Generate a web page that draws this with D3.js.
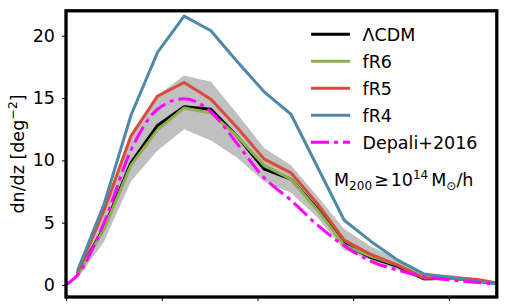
<!DOCTYPE html>
<html>
<head>
<meta charset="utf-8">
<script src="https://cdn.jsdelivr.net/npm/d3@7"></script>
<style>
    body { margin: 0; background: #fff; }
    svg { display: block; font-family: "DejaVu Sans", sans-serif; }
</style>
</head>
<body>
<div id="chart"></div>
<script>
// redshift bins (bin centres) and dn/dz curves
const zBins = [0.06, 0.199, 0.339, 0.478, 0.617, 0.757, 0.896, 1.035, 1.175, 1.314, 1.453, 1.593, 1.732, 1.871, 2.011, 2.150, 2.289];
const lcdm  = [0.9, 4.6, 9.8, 12.8, 14.3, 14.1, 11.9, 9.3, 8.5, 6.1, 3.3, 2.2, 1.5, 0.5, 0.55, 0.35, 0.05];
const lcdmHi = [1.2, 6.2, 12.0, 15.2, 16.8, 16.3, 13.7, 11.0, 9.6, 7.1, 4.5, 3.1, 2.1, 0.9, 0.8, 0.5, 0.1];
const lcdmLo = [0.5, 3.5, 8.3, 10.8, 12.5, 11.6, 10.2, 8.3, 7.4, 5.4, 2.8, 2.0, 1.2, 0.35, 0.4, 0.2, 0.0];
const fR6 = [0.85, 4.5, 9.6, 12.45, 14.2, 13.8, 11.9, 9.6, 8.5, 6.0, 3.2, 2.3, 1.6, 0.6, 0.55, 0.35, 0.05];
const fR5 = [1.0, 6.0, 11.95, 15.15, 16.25, 14.9, 12.6, 10.1, 9.0, 6.5, 3.6, 2.45, 1.6, 0.55, 0.6, 0.45, 0.05];
const fR4 = [1.15, 6.5, 13.6, 18.66, 21.57, 20.4, 17.9, 15.5, 13.7, 9.45, 5.2, 3.5, 2.0, 0.88, 0.6, 0.27, 0.05];
const depaliZ = [0, 0.06, 0.199, 0.339, 0.478, 0.617, 0.757, 0.896, 1.035, 1.175, 1.314, 1.453, 1.593, 1.732, 1.871, 2.011, 2.150, 2.289];
const depali  = [0, 0.8, 5.0, 10.8, 14.1, 14.95, 13.9, 11.3, 8.6, 6.8, 4.8, 3.15, 1.9, 1.2, 0.67, 0.4, 0.2, 0.05];
const yTicks = [0, 5, 10, 15, 20];
const xTicks = [0, 0.5, 1, 1.5, 2];

const series = [
    { name: "\u039BCDM", values: lcdm, color: "#000000" },
    { name: "fR6", values: fR6, color: "#8cb04f" },
    { name: "fR5", values: fR5, color: "#d94c3d" },
    { name: "fR4", values: fR4, color: "#4e8aa8" }
];

const width = 506, height = 308;
const plot = { left: 66, right: 496.8, top: 10.8, bottom: 297 };

const svg = d3.select("#chart").append("svg")
    .attr("width", width)
    .attr("height", height);

const x = d3.scaleLinear().domain([0, 2.25]).range([plot.left, plot.right]);
const y = d3.scaleLinear().domain([-1, 22]).range([297.5, 10.8]);

svg.append("clipPath").attr("id", "clip")
    .append("rect")
    .attr("x", plot.left).attr("y", plot.top)
    .attr("width", plot.right - plot.left).attr("height", plot.bottom - plot.top);

const g = svg.append("g").attr("clip-path", "url(#clip)");

// shaded LCDM scatter
const band = d3.area()
    .x((d, i) => x(zBins[i]))
    .y0((d, i) => y(lcdmLo[i]))
    .y1(d => y(d));

g.append("path")
    .datum(lcdmHi)
    .attr("d", band)
    .attr("fill", "#c0c0c0");

const line = d3.line()
    .x((d, i) => x(zBins[i]))
    .y(d => y(d));

series.forEach(s => {
    g.append("path")
        .datum(s.values)
        .attr("d", line)
        .attr("fill", "none")
        .attr("stroke", s.color)
        .attr("stroke-width", 3)
        .attr("stroke-linejoin", "round");
});

// Depali+2016 fit, smooth dash-dot
const depaliLine = d3.line()
    .x((d, i) => x(depaliZ[i]))
    .y(d => y(d))
    .curve(d3.curveMonotoneX);

g.append("path")
    .datum(depali)
    .attr("d", depaliLine)
    .attr("fill", "none")
    .attr("stroke", "#ff00ff")
    .attr("stroke-width", 3)
    .attr("stroke-dasharray", "18,5,4,5");

// axes
const yAxis = svg.append("g")
    .attr("transform", "translate(" + plot.left + ",0)")
    .call(d3.axisLeft(y).tickValues(yTicks).tickSize(4).tickPadding(7));
yAxis.select(".domain").remove();
yAxis.selectAll("text")
    .style("font-size", "17.5px")
    .style("font-family", "DejaVu Sans")
    .attr("fill", "#000");

const xAxis = svg.append("g")
    .attr("transform", "translate(0," + plot.bottom + ")")
    .call(d3.axisBottom(x).tickValues(xTicks).tickSize(4).tickFormat(""));
xAxis.select(".domain").remove();

// frame
svg.append("rect")
    .attr("x", plot.left).attr("y", plot.top)
    .attr("width", plot.right - plot.left).attr("height", plot.bottom - plot.top)
    .attr("fill", "none")
    .attr("stroke", "#000")
    .attr("stroke-width", 3.3);

// y label
const yLab = svg.append("text")
    .attr("transform", "translate(24," + 154 + ") rotate(-90)")
    .attr("text-anchor", "middle")
    .style("font-size", "17.5px");
yLab.append("tspan").text("dn/dz [deg");
yLab.append("tspan").attr("dy", -7).style("font-size", "12.5px").text("\u22122");
yLab.append("tspan").attr("dy", 7).text("]");

// legend
const legendItems = series.concat([{ name: "Depali+2016", color: "#ff00ff", dash: "18,5,4,5" }]);
const legend = svg.append("g").attr("class", "legend");
legendItems.forEach((d, i) => {
    const ly = 34.3 + i * 27;
    legend.append("line")
        .attr("x1", 311).attr("x2", 350)
        .attr("y1", ly).attr("y2", ly)
        .attr("stroke", d.color)
        .attr("stroke-width", 3)
        .attr("stroke-dasharray", d.dash || null);
    legend.append("text")
        .attr("x", 362.5).attr("y", ly)
        .attr("dy", "0.36em")
        .style("font-size", "17.5px")
        .text(d.name);
});

// mass cut annotation
const ann = svg.append("text")
    .attr("x", 334).attr("y", 186)
    .style("font-size", "17.5px");
ann.append("tspan").text("M");
ann.append("tspan").attr("dy", 4).style("font-size", "12px").text("200");
ann.append("tspan").attr("dy", -4).attr("dx", 2).text("\u2265");
ann.append("tspan").attr("dx", 2).text("10");
ann.append("tspan").attr("dy", -7).style("font-size", "12px").text("14");
ann.append("tspan").attr("dy", 7).attr("dx", 3).text("M");
ann.append("tspan").attr("dy", 4).style("font-size", "12px").text("\u2299");
ann.append("tspan").attr("dy", -4).text("/h");
</script>
</body>
</html>
